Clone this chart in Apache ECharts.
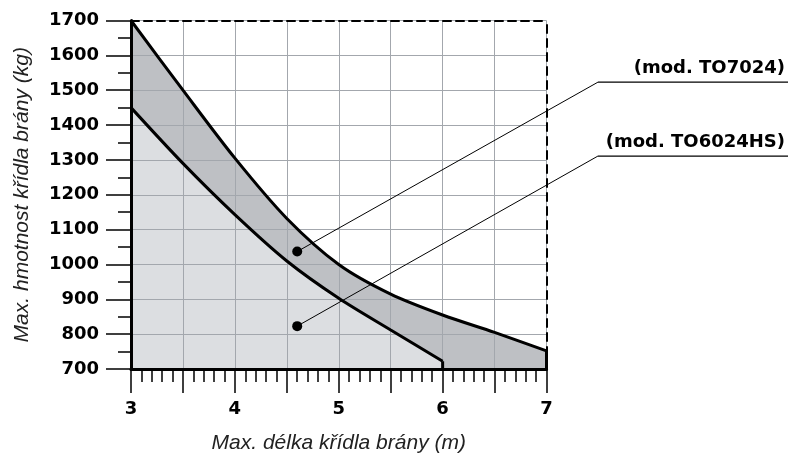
<!DOCTYPE html>
<html>
<head>
<meta charset="utf-8">
<script src="https://cdn.jsdelivr.net/npm/echarts@6/dist/echarts.min.js"></script>
<style>
html,body{margin:0;padding:0;background:#fff;}
#chart{width:788px;height:461px;}
</style>
</head>
<body>
<div id="chart"></div>
<script>
// ---- data ----
const lengthsTO7024 = [3, 3.5, 4, 4.5, 5, 5.5, 6, 6.5, 7];
const weightsTO7024 = [1700, 1500, 1305, 1132, 1000, 915, 855, 805, 752];
const lengthsTO6024HS = [3, 3.5, 4, 4.5, 5, 5.5, 6];
const weightsTO6024HS = [1450, 1290, 1143, 1010, 903, 812, 722];
const modelLabels = ['(mod. TO7024)', '(mod. TO6024HS)'];
const markerPoints = [[4.6, 1037], [4.6, 823]];
const labelAnchors = [[7.495, 1523], [7.495, 1311]];
const xMin = 3, xMax = 7, xStep = 0.5;
const yMin = 700, yMax = 1700, yStep = 100;
const xTitle = 'Max. délka křídla brány (m)';
const yTitle = 'Max. hmotnost křídla brány (kg)';

const pairs = (xs, ys) => xs.map((x, i) => [x, ys[i]]);
const upper = pairs(lengthsTO7024, weightsTO7024);
const lower = pairs(lengthsTO6024HS, weightsTO6024HS);
const upperDrop = [[lengthsTO7024[lengthsTO7024.length - 1], weightsTO7024[weightsTO7024.length - 1]], [lengthsTO7024[lengthsTO7024.length - 1], yMin]];
const lowerDrop = [[lengthsTO6024HS[lengthsTO6024HS.length - 1], weightsTO6024HS[weightsTO6024HS.length - 1]], [lengthsTO6024HS[lengthsTO6024HS.length - 1], yMin]];

const SMOOTH = 0.3;
const labelFont = { fontFamily: 'DejaVu Sans', fontWeight: 'bold', fontSize: 18, color: '#000' };
const titleFont = { fontFamily: 'Liberation Sans, Arial, sans-serif', fontStyle: 'italic', fontSize: 21, color: '#222' };
const gridColor = '#a3a7ad';

const chart = echarts.init(document.getElementById('chart'), null, { renderer: 'canvas' });

const option = {
  backgroundColor: '#fff',
  animation: false,
  grid: { left: 131, right: 241.5, top: 20.5, bottom: 92, containLabel: false },
  xAxis: [{
    type: 'value', min: xMin, max: xMax, interval: xStep, position: 'bottom', z: 3,
    axisLine: { show: true, onZero: false, lineStyle: { color: '#000', width: 3 } },
    axisTick: { show: true, inside: false, length: 24, lineStyle: { color: '#000', width: 1.5 } },
    minorTick: { show: true, splitNumber: 5, length: 13, lineStyle: { color: '#000', width: 1.5 } },
    axisLabel: Object.assign({ margin: 31, formatter: v => (Number.isInteger(v) ? String(v) : '') }, labelFont),
    splitLine: { show: true, lineStyle: { color: gridColor, width: 1 } },
    name: xTitle, nameLocation: 'middle', nameGap: 64, nameTextStyle: titleFont
  }, {
    type: 'value', min: xMin, max: xMax, position: 'top', z: 3,
    axisLine: { show: true, onZero: false, lineStyle: { color: '#000', width: 2, type: [8, 5] } },
    axisTick: { show: false }, axisLabel: { show: false }, splitLine: { show: false }
  }],
  yAxis: [{
    type: 'value', min: yMin, max: yMax, interval: yStep, position: 'left', z: 3,
    axisLine: { show: true, onZero: false, lineStyle: { color: '#000', width: 3 } },
    axisTick: { show: true, inside: false, length: 25, lineStyle: { color: '#000', width: 1.5 } },
    minorTick: { show: true, splitNumber: 2, length: 13, lineStyle: { color: '#000', width: 1.5 } },
    axisLabel: Object.assign({ margin: 32, formatter: v => String(v) }, labelFont),
    splitLine: { show: true, lineStyle: { color: gridColor, width: 1 } },
    name: yTitle, nameLocation: 'middle', nameGap: 98, nameTextStyle: titleFont
  }, {
    type: 'value', min: yMin, max: yMax, position: 'right', z: 3,
    axisLine: { show: true, onZero: false, lineStyle: { color: '#000', width: 2, type: [8, 6] } },
    axisTick: { show: false }, axisLabel: { show: false }, splitLine: { show: false }
  }],
  series: [
    { name: 'TO7024 area', type: 'line', data: upper, smooth: SMOOTH, symbol: 'none', z: 1,
      lineStyle: { width: 0 }, areaStyle: { color: '#bec0c4', opacity: 1, origin: 'start' } },
    { name: 'TO6024HS area', type: 'line', data: lower, smooth: SMOOTH, symbol: 'none', z: 1.5,
      lineStyle: { width: 0 }, areaStyle: { color: '#dcdee1', opacity: 1, origin: 'start' } },
    { name: 'TO7024', type: 'line', data: upper, smooth: SMOOTH, symbol: 'none', z: 5,
      lineStyle: { color: '#000', width: 3 } },
    { name: 'TO6024HS', type: 'line', data: lower, smooth: SMOOTH, symbol: 'none', z: 5,
      lineStyle: { color: '#000', width: 3 } },
    { name: 'TO7024 end', type: 'line', data: upperDrop, symbol: 'none', z: 5,
      lineStyle: { color: '#000', width: 3 } },
    { name: 'TO6024HS end', type: 'line', data: lowerDrop, symbol: 'none', z: 5,
      lineStyle: { color: '#000', width: 3 } },
    { name: 'markers', type: 'scatter', data: markerPoints, symbol: 'circle', symbolSize: 10, z: 6,
      itemStyle: { color: '#000', opacity: 1 } }
  ]
};
chart.setOption(option);

// annotations: leader lines + model labels
const W = chart.getWidth();
const elements = [];
markerPoints.forEach((pt, i) => {
  const p0 = chart.convertToPixel({ gridIndex: 0 }, pt);
  const p1 = chart.convertToPixel({ gridIndex: 0 }, labelAnchors[i]);
  elements.push({ type: 'line', z: 7, shape: { x1: p0[0], y1: p0[1], x2: p1[0], y2: p1[1] },
    style: { stroke: '#000', lineWidth: 1 } });
  elements.push({ type: 'line', z: 7, shape: { x1: p1[0], y1: p1[1], x2: W, y2: p1[1] },
    style: { stroke: '#000', lineWidth: 1.3 } });
  elements.push({ type: 'text', z: 7, x: W - 3, y: p1[1] - 14,
    style: { text: modelLabels[i], fill: '#000', font: 'bold 18px "DejaVu Sans"', align: 'right', verticalAlign: 'middle' } });
});
chart.setOption({ graphic: elements });
</script>
</body>
</html>
